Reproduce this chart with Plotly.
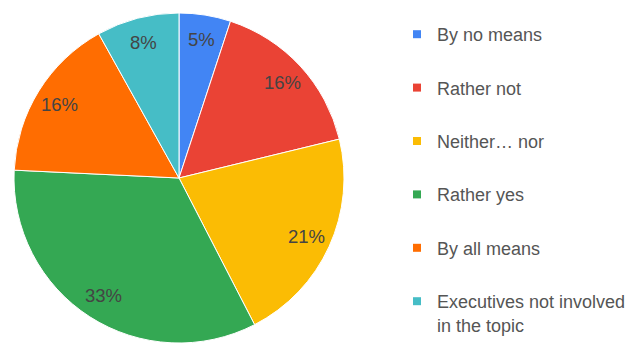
import math
import plotly.graph_objects as go

# Survey answers and their shares (percent)
categories = ["By no means", "Rather not", "Neither… nor", "Rather yes",
              "By all means", "Executives not involved<br>in the topic"]
shares = [5, 16, 21, 33, 16, 8]
colors = ["#4285F4", "#EA4335", "#FBBC04", "#34A853", "#FF6D01", "#46BDC6"]

W, H = 641, 343
M_TOP = 13
FONT = "Liberation Sans, Arial, sans-serif"

# pie occupies the left part of the figure
pie_dom_x = [0, 358 / W]
plot_h = H - M_TOP
radius_px = min(pie_dom_x[1] * W, plot_h) / 2
cx_px = (pie_dom_x[0] + pie_dom_x[1]) / 2 * W
cy_px = plot_h / 2  # from the bottom of the plot area

fig = go.Figure()

fig.add_trace(go.Pie(
    labels=categories,
    values=shares,
    marker=dict(colors=colors, line=dict(color="white", width=1)),
    sort=False,
    direction="clockwise",
    rotation=0,
    textinfo="none",
    showlegend=False,
    domain=dict(x=pie_dom_x, y=[0, 1]),
    hoverinfo="label+percent",
))

# percentage labels placed at each slice's mid-angle, near the rim
total = sum(shares)
cum = 0
for v in shares:
    mid = (cum + v / 2) / total * 2 * math.pi  # clockwise from 12 o'clock
    cum += v
    r = radius_px * 0.85
    px = cx_px + r * math.sin(mid)
    py = cy_px + r * math.cos(mid)
    fig.add_annotation(
        x=px / W, y=py / plot_h, xref="paper", yref="paper",
        text=f"{round(v / total * 100)}%", showarrow=False,
        font=dict(family=FONT, size=18.5, color="#444444"),
        xanchor="center", yanchor="middle",
    )

# Legend entries, one group each so the spacing between them can be set
for i, (name, col) in enumerate(zip(categories, colors)):
    fig.add_trace(go.Scatter(
        x=[None], y=[None], mode="markers", name=name,
        marker=dict(symbol="square", size=8, color=col),
        legendgroup=f"g{i}", showlegend=True, hoverinfo="skip",
    ))

fig.update_layout(
    width=W, height=H,
    margin=dict(l=0, r=0, t=M_TOP, b=0),
    paper_bgcolor="white", plot_bgcolor="white",
    xaxis=dict(visible=False), yaxis=dict(visible=False),
    legend=dict(
        x=397 / W, y=1 - 6 / plot_h, xanchor="left", yanchor="top",
        font=dict(family=FONT, size=18, color="#555555"),
        valign="top",
        tracegroupgap=27, itemclick=False, itemdoubleclick=False,
        bgcolor="rgba(0,0,0,0)",
    ),
    font=dict(family=FONT),
)

fig.write_html("out.html")
